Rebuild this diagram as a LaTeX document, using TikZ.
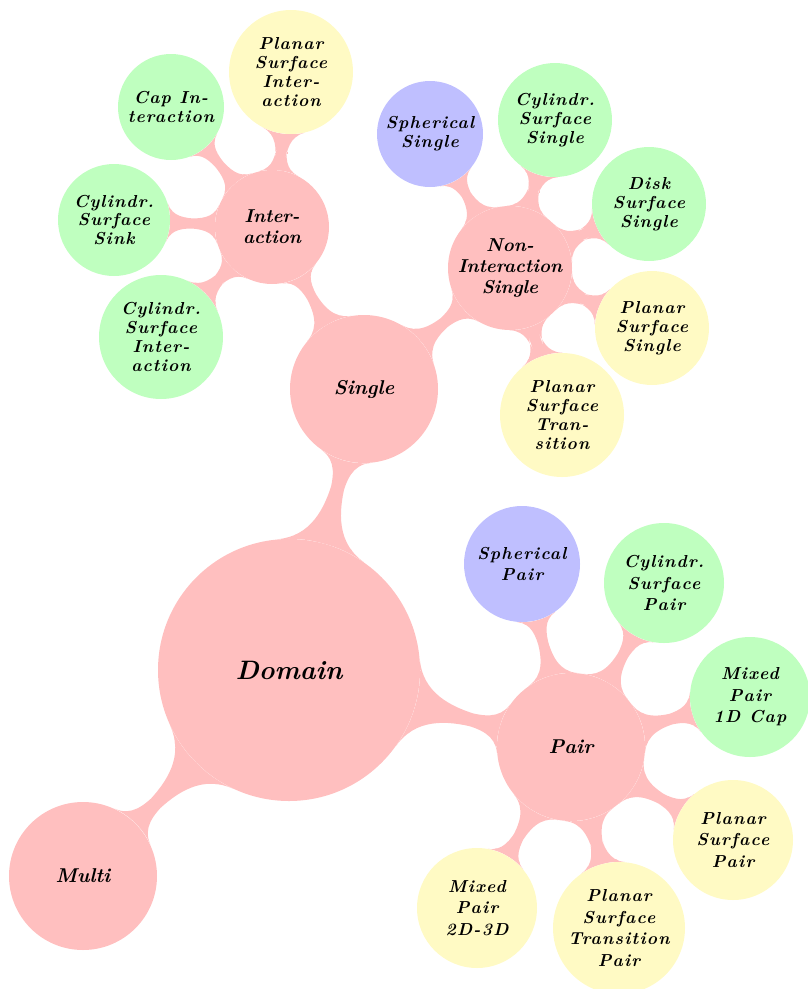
\documentclass[tikz,border=0pt]{standalone}
\usepackage{fontspec}
\setmainfont{Latin Modern Roman}
\usetikzlibrary{mindmap}
\pgfdeclarelayer{background}
\pgfsetlayers{background,main}
\definecolor{pinkc}{RGB}{255,191,191}
\definecolor{greenc}{RGB}{191,255,191}
\definecolor{bluec}{RGB}{191,191,255}
\definecolor{yellowc}{RGB}{255,250,196}
\tikzset{
  bub/.style={circle, fill=pinkc, inner sep=0pt, align=center, text=black},
  rootc/.style={bub, minimum size=196.5pt, font=\fontsize{20}{24}\selectfont\bfseries\itshape},
  lvlone/.style={bub, minimum size=111pt, font=\fontsize{15}{18}\selectfont\bfseries\itshape},
  lvltwo/.style={bub, font=\fontsize{14}{16}\selectfont\bfseries\itshape},
  leaf/.style={bub, font=\fontsize{13}{14.2}\selectfont\bfseries\itshape\addfontfeatures{LetterSpace=6.5}},
  pleaf/.style={font=\fontsize{13}{16.2}\selectfont\bfseries\itshape\addfontfeatures{LetterSpace=7}},
  gleaf/.style={leaf, fill=greenc},
  yleaf/.style={leaf, fill=yellowc},
  bleaf/.style={leaf, fill=bluec},
  conn/.style={circle connection bar switch color=from (pinkc) to (pinkc)}
}
\begin{document}
\begin{tikzpicture}[x=0.75pt,y=-0.75pt]
\useasboundingbox (0,0) rectangle (807,989);
% main concepts
\node[rootc] (dom) at (289,670) {Domain};
\node[lvlone] (sing) at (364,389) {Single};
\node[lvlone] (pair) at (571,747) {Pair};
\node[lvlone] (multi) at (83,876) {Multi};
\node[lvltwo, minimum size=85.5pt] (inter) at (272,227) {Inter-\\action};
\node[lvltwo, minimum size=93pt] (nonint) at (510,268) {Non-\\Interaction\\Single};
% interaction leaves
\node[yleaf, minimum size=93pt] (plani) at (291,72) {Planar\\Surface\\Inter-\\action};
\node[gleaf, minimum size=79.5pt] (capi) at (171,107) {Cap In-\\teraction};
\node[gleaf, minimum size=84pt] (cylsink) at (114,220) {Cylindr.\\Surface\\Sink};
\node[gleaf, minimum size=93pt] (cyli) at (161,337) {Cylindr.\\Surface\\Inter-\\action};
% non-interaction leaves
\node[bleaf, minimum size=79.5pt] (sphs) at (430,134) {Spherical\\Single};
\node[gleaf, minimum size=85.5pt] (cyls) at (555,120) {Cylindr.\\Surface\\Single};
\node[gleaf, minimum size=85.5pt] (disks) at (649,204) {Disk\\Surface\\Single};
\node[yleaf, minimum size=85.5pt] (plans) at (652,328) {Planar\\Surface\\Single};
\node[yleaf, minimum size=93pt] (planst) at (562,415) {Planar\\Surface\\Tran-\\sition};
% pair leaves
\node[bleaf, pleaf, minimum size=87pt] (sphp) at (522,564) {Spherical\\Pair};
\node[gleaf, pleaf, minimum size=90pt] (cylp) at (664,583) {Cylindr.\\Surface\\Pair};
\node[gleaf, pleaf, minimum size=90pt] (mixcap) at (750,697) {Mixed\\Pair\\1D\hspace{0.5em}Cap};
\node[yleaf, pleaf, minimum size=90pt] (planp) at (733,840) {Planar\\Surface\\Pair};
\node[yleaf, pleaf, minimum size=99pt] (plantp) at (619,928) {Planar\\Surface\\Transition\\Pair};
\node[yleaf, pleaf, minimum size=90pt] (mixtd) at (477,908) {Mixed\\Pair\\2D-3D};
\begin{pgfonlayer}{background}
\path (dom) to[conn] (sing);
\path (dom) to[conn] (pair);
\path (dom) to[conn] (multi);
\path (sing) to[conn] (inter);
\path (sing) to[conn] (nonint);
\path (inter) to[conn] (plani);
\path (inter) to[conn] (capi);
\path (inter) to[conn] (cylsink);
\path (inter) to[conn] (cyli);
\path (nonint) to[conn] (sphs);
\path (nonint) to[conn] (cyls);
\path (nonint) to[conn] (disks);
\path (nonint) to[conn] (plans);
\path (nonint) to[conn] (planst);
\path (pair) to[conn] (sphp);
\path (pair) to[conn] (cylp);
\path (pair) to[conn] (mixcap);
\path (pair) to[conn] (planp);
\path (pair) to[conn] (plantp);
\path (pair) to[conn] (mixtd);
\end{pgfonlayer}
\end{tikzpicture}
\end{document}
